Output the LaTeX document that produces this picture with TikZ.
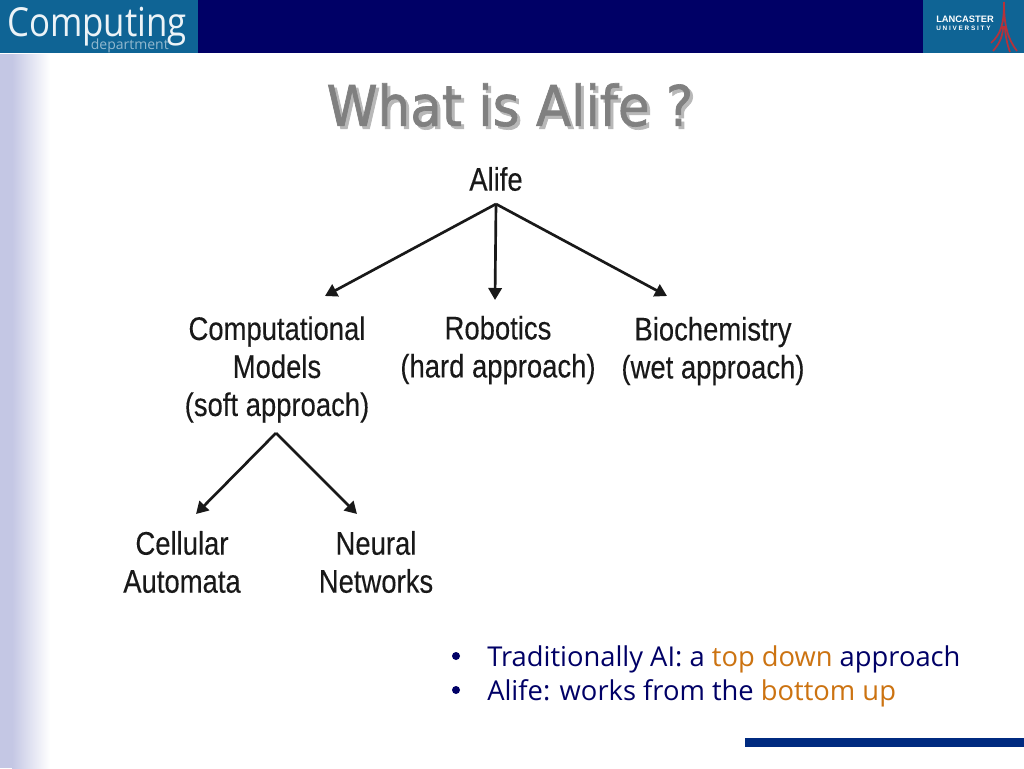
\documentclass[tikz,border=0pt]{standalone}
\usepackage{fontspec}
\setmainfont{Liberation Sans}
\newfontfamily\treefont[FakeStretch=0.84,FakeBold=0.2]{Liberation Sans}
\newfontfamily\slidefont[FakeStretch=0.92,FakeBold=1.2]{DejaVu Sans}
\newfontfamily\logofont[FakeStretch=0.87]{Open Sans}
\newfontfamily\bulletfont{Open Sans}
\usetikzlibrary{
  arrows.meta,
  positioning
}
\definecolor{navy}{HTML}{000066}
\definecolor{logoblue}{HTML}{0F6495}
\definecolor{paleblue}{HTML}{C4C7E4}
\definecolor{barblue}{HTML}{002A80}
\definecolor{orangetext}{HTML}{CC7311}
\definecolor{titlegray}{HTML}{808080}
\definecolor{shadowgray}{HTML}{B8B8B8}
\definecolor{spirered}{HTML}{B5323A}
\tikzset{
  % For labels of the tree.
  label text/.style={
    font=\treefont\fontsize{24.5pt}{28.5pt}\selectfont,
    text=black!90,
    align=center,
    inner sep=0pt},
%
  % For tree arrows.
  direction/.style={
    line width=2pt,
    draw=black!90,
    -{Triangle[length=9pt,width=10pt]}},
%
  % For the slide title.
  title text/.style={
    font=\slidefont\fontsize{42pt}{48pt}\selectfont,
    inner sep=0pt},
%
  % For the two bullet lines.
  bullet text/.style={
    font=\bulletfont\fontsize{20.5pt}{24pt}\selectfont,
    text=navy,
    anchor=base west,
    inner sep=0pt},
%
  % For the text in the logos.
  logo text/.style={
    text=white,
    inner sep=0pt},
%
  % For the legs of the spire.
  spire/.style={
    spirered,
    line width=1.3pt}
}
\begin{document}
\begin{tikzpicture}[x=0.75pt,y=-0.75pt]
  \useasboundingbox (0,0) rectangle (1024,768);

  % Page furniture.
  \fill[white] (0,0) rectangle (1024,768);
  \shade[left color=paleblue,right color=white] (12,54) rectangle (50,768);
  \fill[paleblue] (0,54) rectangle (12,768);
  \fill[navy] (0,0) rectangle (1024,53);
  \fill[logoblue] (0,0) rectangle (198,53);
  \fill[logoblue] (923,0) rectangle (1024,53);
  \fill[barblue] (745,738) rectangle (1024,747);

  % Logos.
  \node[logo text,anchor=base west,text=white!92!logoblue,
        font=\logofont\fontsize{30pt}{32pt}\selectfont] (computing) at (7,36) {Computing};
  \node[logo text,anchor=base east,text=logoblue!45!white,
        font=\bulletfont\fontsize{10.5pt}{12pt}\selectfont] (department) at (169,49) {department};
  \node[logo text,anchor=base west,font=\bfseries\fontsize{7pt}{8pt}\selectfont] (lancaster) at (936,22) {LANCASTER};
  \node[logo text,anchor=base west,font=\bfseries\fontsize{4.8pt}{6pt}\selectfont] (university) at (936,30) {U N I V E R S I T Y};
  \draw[spire] (1004,2) .. controls (1004,24) and (1007,38) .. (1017,51);
  \draw[spire] (1004,2) .. controls (1004,24) and (1001,34) .. (991,43);
  \draw[spire] (1005,26) .. controls (1005,34) and (1007,44) .. (1010,52);
  \draw[spire] (1003,26) .. controls (1003,34) and (1001,42) .. (993,51);

  % Title with its shadow.
  \node[title text,text=shadowgray] (titleshadow) at (513,108) {What is Alife ?};
  \node[title text,text=titlegray] (title) at (510,105) {What is Alife ?};

  % The tree.
  \node[label text] (alife) at (496,179) {Alife};
  \node[label text] (computational) at (277,369.5) {Computational\\Models\\(soft approach)};
  \node[label text] (robotics) at (498,350) {Robotics\\(hard approach)};
  \node[label text] (biochemistry) at (713,351) {Biochemistry\\(wet approach)};
  \node[label text] (cellular) at (182,562) {Cellular\\Automata};
  \node[label text] (neural) at (376,562) {Neural\\Networks};

  \coordinate (alifeapex) at (496,204);
  \coordinate (softapex) at (276,433);
  \coordinate (computationaltip) at (325,296);
  \coordinate (roboticstip) at (495,300);
  \coordinate (biochemistrytip) at (667,296);
  \coordinate (cellulartip) at (196,514);
  \coordinate (neuraltip) at (357,514);

  \foreach \t in {computationaltip, roboticstip, biochemistrytip}
    {\draw[direction] (alifeapex) -- (\t);}
  \foreach \t in {cellulartip, neuraltip}
    {\draw[direction] (softapex) -- (\t);}

  % Bullets.
  \foreach \y in {656,690}
    {\fill[navy] (456,\y) circle (4);}
  \node[bullet text] (traditionally) at (487,666)
    {Traditionally AI: a \textcolor{orangetext}{top down} approach};
  \node[bullet text] (bottomup) at (487,700)
    {Alife: works from the \textcolor{orangetext}{bottom up}};
\end{tikzpicture}
\end{document}
